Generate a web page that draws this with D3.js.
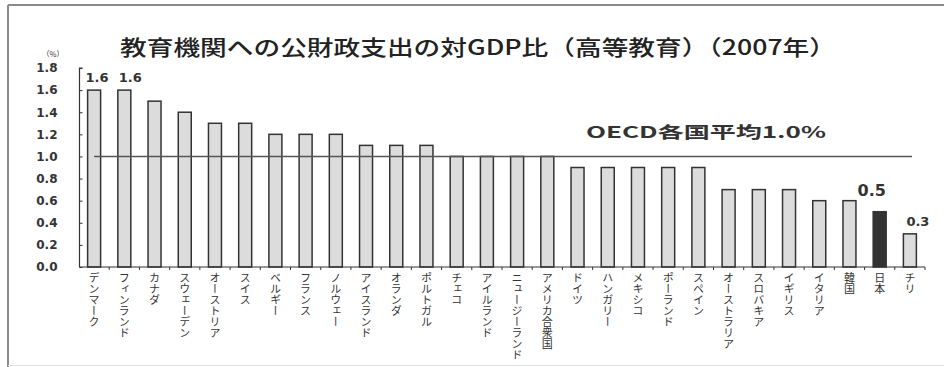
<!DOCTYPE html>
<html lang="ja">
<head>
<meta charset="utf-8">
<script src="https://cdn.jsdelivr.net/npm/d3@7/dist/d3.min.js"></script>
<style>
  html, body { margin: 0; padding: 0; background: #fff; }
  svg { display: block; }
</style>
</head>
<body>
<svg id="chart" width="944" height="367"></svg>
<script>
// 教育機関への公財政支出の対GDP比（高等教育）2007年
const countries = ["デンマーク", "フィンランド", "カナダ", "スウェーデン", "オーストリア", "スイス",
  "ベルギー", "フランス", "ノルウェー", "アイスランド", "オランダ", "ポルトガル", "チェコ",
  "アイルランド", "ニュージーランド", "アメリカ合衆国", "ドイツ", "ハンガリー", "メキシコ",
  "ポーランド", "スペイン", "オーストラリア", "スロバキア", "イギリス", "イタリア", "韓国", "日本", "チリ"];
const values = [1.6, 1.6, 1.5, 1.4, 1.3, 1.3, 1.2, 1.2, 1.2, 1.1, 1.1, 1.1, 1.0,
  1.0, 1.0, 1.0, 0.9, 0.9, 0.9, 0.9, 0.9, 0.7, 0.7, 0.7, 0.6, 0.6, 0.5, 0.3];
const highlighted = ["日本"];
const labelled = ["デンマーク", "フィンランド", "日本", "チリ"];
const oecdAverage = 1.0;
const yTicks = [0, 0.2, 0.4, 0.6, 0.8, 1.0, 1.2, 1.4, 1.6, 1.8];
const titleText = "教育機関への公財政支出の対GDP比（高等教育）（2007年）";
const oecdLabel = "OECD各国平均1.0%";
const unitLabel = "（%）";

const data = countries.map((c, i) => ({ country: c, value: values[i] }));

const svg = d3.select("#chart");
const jp = "'Noto Sans CJK JP', 'Noto Sans', sans-serif";
const num = "'DejaVu Sans', 'Liberation Sans', sans-serif";

// outer frame
svg.append("line").attr("x1", 8).attr("x2", 944).attr("y1", 5).attr("y2", 5)
  .attr("stroke", "#8a8a8a").attr("stroke-width", 2);
svg.append("line").attr("x1", 8).attr("x2", 8).attr("y1", 5).attr("y2", 367)
  .attr("stroke", "#8a8a8a").attr("stroke-width", 2);
svg.append("line").attr("x1", 8).attr("x2", 944).attr("y1", 365.5).attr("y2", 365.5)
  .attr("stroke", "#e2e2e2").attr("stroke-width", 1);

const x = d3.scaleBand().domain(countries).range([79, 925]).paddingInner(0.57).paddingOuter(0.285);
const y = d3.scaleLinear().domain([0, 1.8]).range([267, 68]);

// title
svg.append("text").attr("x", 120).attr("y", 55)
  .attr("textLength", 716).attr("lengthAdjust", "spacingAndGlyphs")
  .attr("font-family", jp).attr("font-size", 21).attr("font-weight", 500).attr("fill", "#222")
  .text(titleText);

// unit
svg.append("text").attr("x", 53).attr("y", 57).attr("text-anchor", "middle")
  .attr("font-family", jp).attr("font-size", 7.5).attr("fill", "#333").text(unitLabel);

// y axis: ticks point inward
const yAxis = d3.axisLeft(y).tickValues(yTicks).tickSize(-3).tickPadding(22)
  .tickFormat(d3.format(".1f"));
const gy = svg.append("g").attr("transform", "translate(79.5,0)").call(yAxis);
gy.select(".domain").attr("stroke", "#333").attr("stroke-width", 1.2)
  .attr("d", `M3,${y(1.8)}H0V${y(0)}`);
gy.selectAll(".tick line").attr("stroke", "#333");
gy.selectAll(".tick text").attr("font-family", num).attr("font-size", 12).attr("font-weight", "bold")
  .attr("fill", "#333");

// bars
svg.append("g").selectAll("rect").data(data).join("rect")
  .attr("x", d => x(d.country))
  .attr("width", x.bandwidth())
  .attr("y", d => y(d.value))
  .attr("height", d => y(0) - y(d.value))
  .attr("fill", d => highlighted.includes(d.country) ? "#333" : "#dcdcdc")
  .attr("stroke", "#333").attr("stroke-width", 1.5);

// x baseline with small ticks between categories
const step = x.step();
const bounds = d3.range(countries.length + 1).map(i => x.range()[0] + i * step);
svg.append("line").attr("x1", 79).attr("x2", 925).attr("y1", y(0)).attr("y2", y(0))
  .attr("stroke", "#333").attr("stroke-width", 1.2);
svg.append("g").selectAll("line").data(bounds.slice(1)).join("line")
  .attr("x1", d => d).attr("x2", d => d).attr("y1", y(0)).attr("y2", y(0) + 3)
  .attr("stroke", "#333").attr("stroke-width", 1);

// OECD average line
svg.append("line")
  .attr("x1", x(countries[0]) + x.bandwidth() / 2)
  .attr("x2", 912)
  .attr("y1", y(oecdAverage)).attr("y2", y(oecdAverage))
  .attr("stroke", "#555").attr("stroke-width", 1.6);
svg.append("text").attr("x", 586).attr("y", 138)
  .attr("textLength", 240).attr("lengthAdjust", "spacingAndGlyphs")
  .attr("font-family", jp).attr("font-size", 16).attr("font-weight", "bold").attr("fill", "#333")
  .text(oecdLabel);

// value labels
const labelStyle = {
  "デンマーク": { dx: 3, size: 13 },
  "フィンランド": { dx: 6, size: 13 },
  "日本": { dx: -8, size: 16 },
  "チリ": { dx: 8, size: 13 }
};
svg.append("g").selectAll("text").data(data.filter(d => labelled.includes(d.country))).join("text")
  .attr("x", d => x(d.country) + x.bandwidth() / 2 + labelStyle[d.country].dx)
  .attr("y", d => y(d.value) - (d.country === "日本" ? 16 : 8))
  .attr("text-anchor", "middle")
  .attr("font-family", num).attr("font-weight", "bold")
  .attr("font-size", d => labelStyle[d.country].size).attr("fill", "#333")
  .text(d => d3.format(".1f")(d.value));

// vertical category labels
svg.append("g").selectAll("text").data(countries).join("text")
  .attr("x", d => x(d) + x.bandwidth() / 2)
  .attr("y", 272)
  .attr("font-family", jp).attr("font-size", 11).attr("fill", "#333")
  .style("writing-mode", "vertical-rl")
  .style("text-orientation", "upright")
  .text(d => d);
</script>
</body>
</html>
